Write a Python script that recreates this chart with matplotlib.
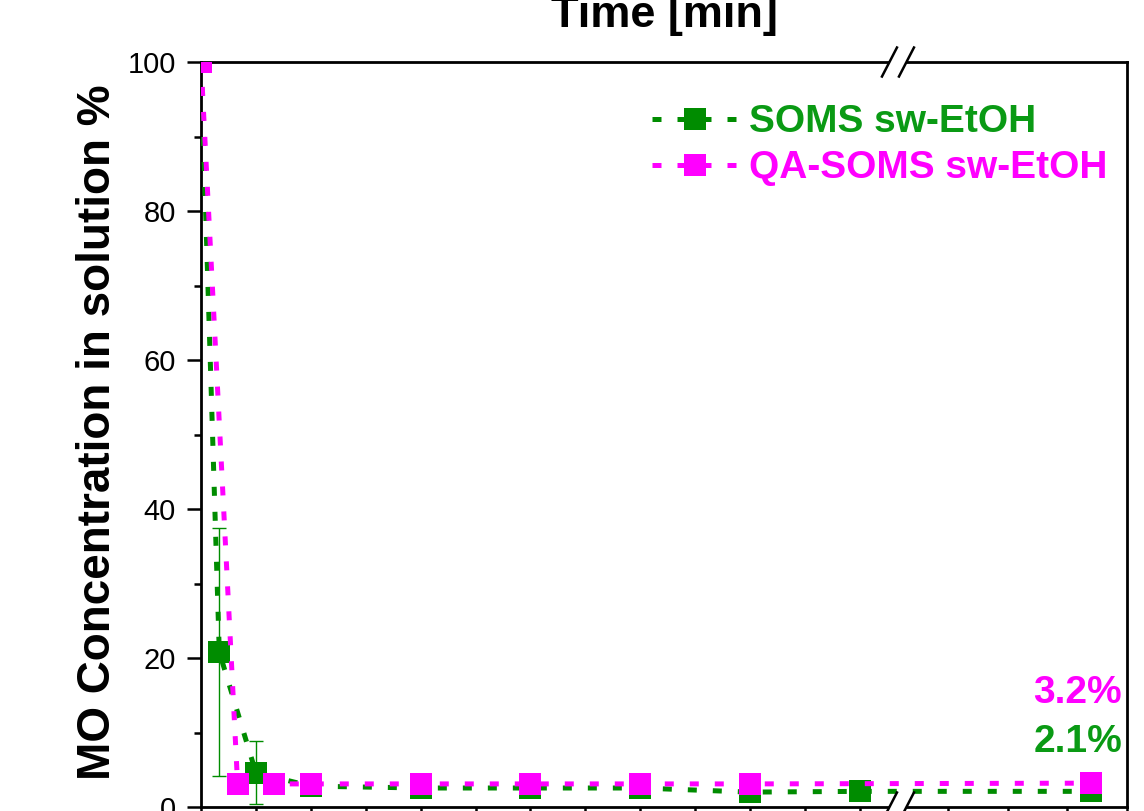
import numpy as np
import matplotlib
matplotlib.use("Agg")
import matplotlib.pyplot as plt

plt.rcParams["font.family"] = ["Liberation Sans", "DejaVu Sans"]

# ---- data -------------------------------------------------------------
soms_time = [0, 10, 30, 60, 120, 180, 240, 300, 360, 1452]
soms_conc = [100, 20.8, 4.6, 2.8, 2.55, 2.55, 2.55, 2.0, 2.1, 2.1]
soms_err = [0, 16.7, 4.2, 0, 0, 0, 0, 0, 0, 0]

qa_time = [0, 20, 40, 60, 120, 180, 240, 300, 1452]
qa_conc = [100, 3.1, 3.1, 3.1, 3.1, 3.1, 3.1, 3.1, 3.2]

left_ticks = [0, 30, 60, 90, 120, 150, 180, 210, 240, 270, 300, 330, 360]
right_ticks = [1380, 1410, 1440, 1470]
y_major = [0, 20, 40, 60, 80, 100]
y_minor = [10, 30, 50, 70, 90]

GREEN = "#008C00"
GREEN_TXT = "#0A9A14"
PINK = "#FF00FF"

# ---- broken time axis ---------------------------------------------------
BREAK_AT = 380.9       # end of the first (linear) segment, min
RIGHT_START = 1354.9   # first time shown after the break, min
RIGHT_SCALE = 1.0867   # relative stretch of the second segment


def fwd(t):
    t = np.asarray(t, dtype=float)
    return np.where(t <= BREAK_AT, t,
                    np.where(t < RIGHT_START, BREAK_AT,
                             BREAK_AT + (t - RIGHT_START) * RIGHT_SCALE))


def inv(u):
    u = np.asarray(u, dtype=float)
    return np.where(u <= BREAK_AT, u, RIGHT_START + (u - BREAK_AT) / RIGHT_SCALE)


fig = plt.figure(figsize=(11.44, 8.11), dpi=100)
ax = fig.add_axes([0.1757, 0.00493, 0.8094, 0.9186])
ax.set_xscale("function", functions=(fwd, inv))

line_kw = dict(lw=3.6, linestyle=(0, (1.8, 3.2)), marker="s", markersize=16,
               markeredgewidth=0)

ax.errorbar(soms_time, soms_conc, yerr=soms_err, fmt="none", ecolor=GREEN,
            elinewidth=1.0, capsize=4.7, capthick=1.0, zorder=3)
ax.plot(soms_time, soms_conc, color=GREEN, label="SOMS sw-EtOH", zorder=4,
        **line_kw)
ax.plot(qa_time, qa_conc, color=PINK, label="QA-SOMS sw-EtOH", zorder=5,
        **line_kw)

ax.set_xlim(0, 1470)
ax.set_ylim(0, 100)
ax.set_xticks(left_ticks + right_ticks)
ax.set_xticks([], minor=True)
ax.set_yticks(y_major)
ax.set_yticks(y_minor, minor=True)

for s in ax.spines.values():
    s.set_linewidth(2.0)

ax.tick_params(axis="both", which="major", direction="out", length=10,
               width=1.8, labelsize=21, pad=8)
ax.tick_params(axis="both", which="minor", direction="out", length=5, width=1.8)
ax.tick_params(axis="x", labelbottom=False)

fig.text(0.0855, 0.467, "MO Concentration in solution %", rotation=90,
         ha="center", va="center", fontsize=33, fontweight="bold")
fig.text(0.5804, 0.9665, "Time [min]", ha="center", va="baseline",
         fontsize=32.5, fontweight="bold")

# legend without frame, text coloured like the series
leg = ax.legend(loc="upper right", bbox_to_anchor=(0.9795, 0.943),
                frameon=False, prop={"weight": "bold", "size": 28},
                handlelength=2.2, handletextpad=0.3, labelspacing=0.25,
                borderpad=0, borderaxespad=0, numpoints=1)
for txt, col in zip(leg.get_texts(), [GREEN_TXT, PINK]):
    txt.set_color(col)

# final values written at the right edge
ax.text(0.9946, 0.1396, f"{qa_conc[-1]:.1f}%", transform=ax.transAxes,
        ha="right", va="baseline", fontsize=28, fontweight="bold", color=PINK)
ax.text(0.9946, 0.0738, f"{soms_conc[-1]:.1f}%", transform=ax.transAxes,
        ha="right", va="baseline", fontsize=28, fontweight="bold",
        color=GREEN_TXT)

# break marks "//" on top and bottom spines
bx = (898 - 201) / 926.0
W, H = 926.0, 745.0
dx, dy, sep = 7.5 / W, 14.5 / H, 8.5 / W
for yy in (0.0, 1.0):
    ax.plot([bx - sep, bx + sep], [yy, yy], color="white", lw=4.5,
            transform=ax.transAxes, clip_on=False, zorder=10,
            solid_capstyle="butt")
    for cx in (bx - sep, bx + sep):
        ax.plot([cx - dx, cx + dx], [yy - dy, yy + dy], color="black", lw=1.8,
                transform=ax.transAxes, clip_on=False, zorder=11)

fig.savefig("out.png", dpi=100)
